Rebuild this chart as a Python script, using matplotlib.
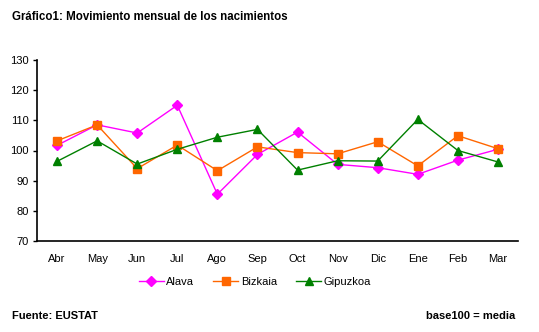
import matplotlib.pyplot as plt

plt.rcParams['font.family'] = ['Liberation Sans', 'DejaVu Sans']

meses = ['Abr', 'May', 'Jun', 'Jul', 'Ago', 'Sep', 'Oct', 'Nov', 'Dic', 'Ene', 'Feb', 'Mar']
alava = [101.7, 108.5, 105.8, 115.0, 85.5, 98.7, 106.1, 95.4, 94.3, 92.1, 96.8, 100.4]
bizkaia = [103.2, 108.5, 94.0, 101.8, 93.3, 101.2, 99.3, 98.9, 102.9, 94.9, 104.9, 100.6]
gipuzkoa = [96.4, 103.2, 95.5, 100.4, 104.4, 107.0, 93.5, 96.6, 96.5, 110.3, 100.0, 96.2]

fig = plt.figure(figsize=(5.39, 3.32), dpi=100)
ax = fig.add_axes([37 / 539, 1 - 241 / 332, 481 / 539, 181 / 332])

x = range(len(meses))
ax.plot(x, alava, color='#FF00FF', marker='D', markersize=5, linewidth=1, label='Alava')
ax.plot(x, bizkaia, color='#FF6600', marker='s', markersize=5.5, linewidth=1, label='Bizkaia')
ax.plot(x, gipuzkoa, color='#008000', marker='^', markersize=6, linewidth=1, label='Gipuzkoa')

ax.set_xlim(-0.5, 11.5)
ax.set_ylim(70, 130)
ax.set_yticks(range(70, 131, 10))
ax.set_xticks(list(x))
ax.set_xticklabels(meses)
ax.tick_params(axis='x', length=0, pad=9, labelsize=8)
ax.tick_params(axis='y', length=3, width=1, pad=3, labelsize=8)
for s in ['top', 'right']:
    ax.spines[s].set_visible(False)
for s in ['left', 'bottom']:
    ax.spines[s].set_linewidth(1.2)

ax.legend(loc='center', bbox_to_anchor=(255 / 539, 1 - 282 / 332), bbox_transform=fig.transFigure,
          ncol=3, frameon=False, fontsize=8, handlelength=2.25, columnspacing=1.7, handletextpad=0.25)

fig.text(12 / 539, 1 - 17 / 332, 'Gráfico1: Movimiento mensual de los nacimientos',
         fontsize=8.3, fontweight='bold', va='center')
fig.text(12 / 539, 1 - 316 / 332, 'Fuente: EUSTAT', fontsize=8, fontweight='bold', va='center')
fig.text(515 / 539, 1 - 316 / 332, 'base100 = media', fontsize=8, fontweight='bold', va='center', ha='right')

fig.savefig('out.png', dpi=100)
